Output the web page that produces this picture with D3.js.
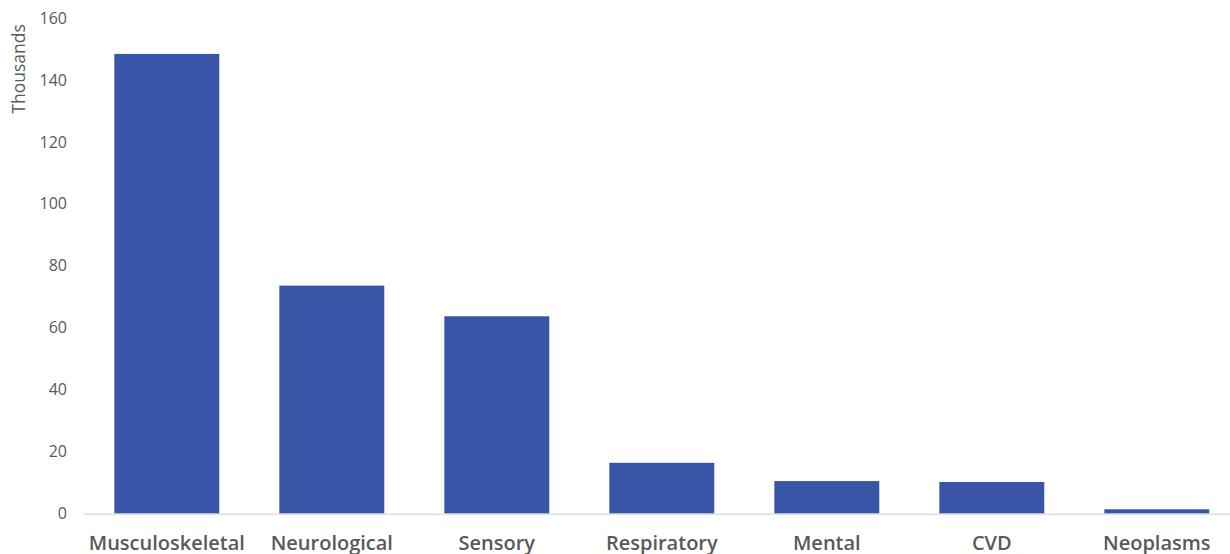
<!DOCTYPE html>
<html><head><meta charset="utf-8">
<script src="https://cdn.jsdelivr.net/npm/d3@7"></script>
<style>body{margin:0;background:#fff;overflow:hidden}</style>
</head><body>
<svg id="c" width="1230" height="554"></svg>
<script>
const categories = ["Musculoskeletal","Neurological","Sensory","Respiratory","Mental","CVD","Neoplasms"];
const values = [148.4, 73.6, 63.7, 16.4, 10.5, 10.2, 1.4];
const yTicks = [0,20,40,60,80,100,120,140,160];
const yTitle = "Thousands";

const svg = d3.select("#c");
const x = d3.scaleBand().domain(categories).range([84.3, 1239.3]).paddingInner(0.364).paddingOuter(0.182);
const y = d3.scaleLinear().domain([0,160]).range([513.6, 18]);

svg.append("g").selectAll("rect").data(values).join("rect")
  .attr("x",(d,i)=>x(categories[i])).attr("width",x.bandwidth())
  .attr("y",d=>y(d)).attr("height",d=>y(0)-y(d)).attr("fill","#3955A8");

svg.append("line").attr("x1",84).attr("x2",1230).attr("y1",y(0)+0.5).attr("y2",y(0)+0.5)
  .attr("stroke","#d9d9d9").attr("stroke-width",1.3);

const ya = svg.append("g").attr("transform","translate(67,0)")
  .call(d3.axisLeft(y).tickValues(yTicks).tickSize(0).tickPadding(0));
ya.select(".domain").remove();
ya.selectAll("text").attr("font-family","'Open Sans', sans-serif").attr("font-size",16).attr("fill","#595959");

const xa = svg.append("g").attr("transform",`translate(0,${y(0)})`)
  .call(d3.axisBottom(x).tickSize(0).tickPadding(0));
xa.select(".domain").remove();
xa.selectAll("text").attr("dy",null).attr("y",36).attr("font-family","'Open Sans', sans-serif")
  .attr("font-weight",600).attr("font-size",20).attr("fill","#595959");

svg.append("text").attr("transform","translate(25,69) rotate(-90)").attr("text-anchor","middle")
  .attr("font-family","'Open Sans', sans-serif").attr("font-size",17.5).attr("fill","#595959").text(yTitle);
</script>
</body></html>
